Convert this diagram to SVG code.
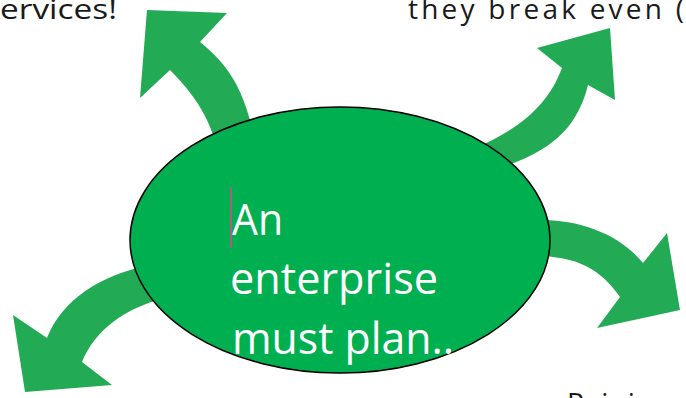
<svg xmlns="http://www.w3.org/2000/svg" width="686" height="398" viewBox="0 0 686 398">
<style>
.arrow{fill:#23aa54;stroke:none}
.lbl{font-family:"Open Sans","Liberation Sans",sans-serif;font-size:28px;fill:#1a1a1a}
.main{font-family:"Open Sans","Liberation Sans",sans-serif;font-size:44px;fill:#ffffff}
</style>
<rect width="686" height="398" fill="#ffffff"/>
<g id="connectors">
<path class="arrow" d="M220,160 C212,120 195,95 170,70 L140,98 L147,10 L227,13 L200,42 C228,65 248,90 258,160 Z"/>
<path class="arrow" d="M470,150 C520,130 548,105 562,68 L537,48 L610,28 L615,100 L588,85 C578,125 555,150 500,168 Z"/>
<path class="arrow" d="M150,265 C100,275 62,300 47,338 L13,315 L25,392 L112,385 L82,362 C95,330 125,308 165,298 Z"/>
<path class="arrow" d="M530,220 C580,218 620,235 643,263 L667,233 L680,310 L597,328 L620,297 C600,268 575,255 530,256 Z"/>
</g>
<g id="center">
<ellipse cx="340" cy="240" rx="210" ry="133" fill="#00b050" stroke="#000000" stroke-width="1.5"/>
<text class="main" x="232" y="235" textLength="51" lengthAdjust="spacingAndGlyphs">An</text>
<text class="main" x="230" y="294" textLength="208" lengthAdjust="spacingAndGlyphs">enterprise</text>
<text class="main" x="232" y="354" textLength="222" lengthAdjust="spacingAndGlyphs">must plan..</text>
<line x1="231" y1="187" x2="231" y2="248" stroke="#e0409a" stroke-width="1.5"/>
</g>
<g id="labels">
<text class="lbl" x="0" y="19" textLength="117" lengthAdjust="spacingAndGlyphs">ervices!</text>
<text class="lbl" x="408" y="19" textLength="276" lengthAdjust="spacing">they break even  (</text>
<text class="lbl" x="567" y="413" letter-spacing="3">Pricing</text>
</g>
</svg>
